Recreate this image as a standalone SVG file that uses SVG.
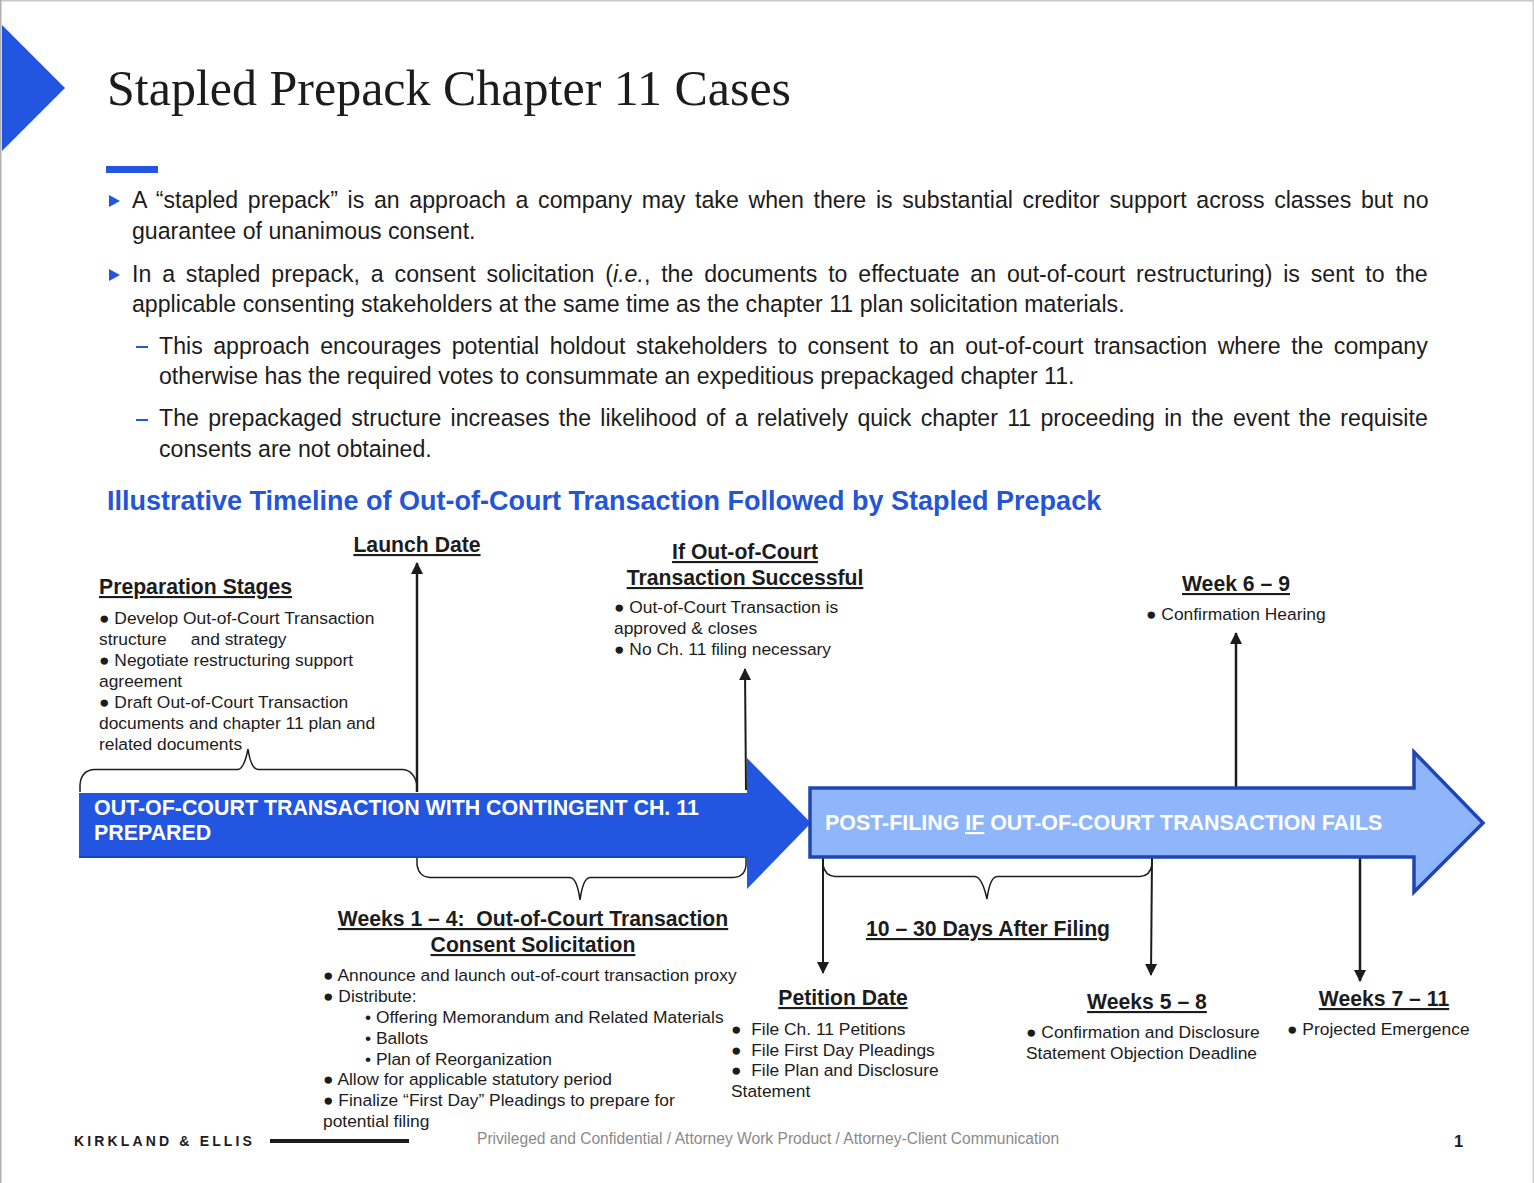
<svg xmlns="http://www.w3.org/2000/svg" width="1534" height="1183" viewBox="0 0 1534 1183">
<style>
text{font-family:"Liberation Sans",Arial,sans-serif;fill:#1c1c1c}
.b{font-size:23.15px}
.h{font-size:21.2px;font-weight:bold;text-decoration:underline}
.s{font-size:17.4px}
.c{text-anchor:middle}
.w{fill:#fff;font-weight:bold;font-size:21.4px}
.ln{fill:none;stroke:#1c1c1c;stroke-width:2}
.br{fill:none;stroke:#1c1c1c;stroke-width:1.5}
</style>
<defs><marker id="a" markerWidth="12" markerHeight="14" refX="11" refY="6" orient="auto" markerUnits="userSpaceOnUse" viewBox="0 0 12 12"><path d="M0 0L12 6L0 12z" fill="#1c1c1c"/></marker></defs>
<rect width="1534" height="1183" fill="#fff"/>
<rect x="0" y="0" width="1534" height="1.5" fill="#c8c8c8"/>
<rect x="0" y="0" width="1.5" height="1183" fill="#b0b0b0"/>
<rect x="1532.5" y="0" width="1.5" height="1183" fill="#d0d0d0"/>
<g id="header">
<path d="M2 25L65 88L2 151z" fill="#2255e0"/>
<text x="107" y="105" style="font-family:'Liberation Serif',serif;font-size:50px">Stapled Prepack Chapter 11 Cases</text>
<rect x="106" y="166" width="52" height="7" fill="#2255e0"/>
</g>
<g id="body">
<path d="M109 195L120 201L109 207z" fill="#2255e0"/>
<text class="b" x="132" y="208" word-spacing="3.25">A “stapled prepack” is an approach a company may take when there is substantial creditor support across classes but no</text>
<text class="b" x="132" y="239">guarantee of unanimous consent.</text>
<path d="M109 269L120 275L109 281z" fill="#2255e0"/>
<text class="b" x="132" y="282" word-spacing="4.4">In a stapled prepack, a consent solicitation (<tspan font-style="italic">i.e.</tspan>, the documents to effectuate an out-of-court restructuring) is sent to the</text>
<text class="b" x="132" y="312">applicable consenting stakeholders at the same time as the chapter 11 plan solicitation materials.</text>
<rect x="136" y="346" width="12" height="2" fill="#2255e0"/>
<text class="b" x="159" y="354" word-spacing="4.07">This approach encourages potential holdout stakeholders to consent to an out-of-court transaction where the company</text>
<text class="b" x="159" y="384">otherwise has the required votes to consummate an expeditious prepackaged chapter 11.</text>
<rect x="136" y="419" width="12" height="2" fill="#2255e0"/>
<text class="b" x="159" y="426" word-spacing="2.85">The prepackaged structure increases the likelihood of a relatively quick chapter 11 proceeding in the event the requisite</text>
<text class="b" x="159" y="457">consents are not obtained.</text>
<text x="107" y="510" style="font-size:27px;font-weight:bold;fill:#2255d8">Illustrative Timeline of Out-of-Court Transaction Followed by Stapled Prepack</text>
</g>
<g id="connectors">
<path class="ln" style="stroke-width:2.5" d="M417 792V563" marker-end="url(#a)"/>
<path class="ln" d="M746 790L745 669" marker-end="url(#a)"/>
<path class="ln" style="stroke-width:2.5" d="M1236 788V633" marker-end="url(#a)"/>
<path class="ln" d="M823 857V973" marker-end="url(#a)"/>
<path class="ln" d="M1152 857L1151 975" marker-end="url(#a)"/>
<path class="ln" style="stroke-width:2.5" d="M1360 857V981" marker-end="url(#a)"/>
<path class="br" d="M80 792V785Q81 770 95 769.5H238Q244 769 248 749Q251 769 258 769.5H402Q414 770 417 785V792"/>
<path class="br" d="M417 857V865Q419 877 430 877.5H570Q577 878 580 900Q583 878 590 877.5H733Q745 877 746 865V857"/>
<path class="br" d="M823 857V865Q825 876 835 876.5H975Q982 877 987 899Q990 877 997 876.5H1140Q1150 876 1152 865V857"/>
</g>
<g id="arrow-out-of-court">
<path d="M79 793H747V758L811 823L747 889V857H79z" fill="#2255e0"/>
<path d="M79 857H747" stroke="#1a45b8" stroke-width="2"/>
<text class="w" x="94" y="815">OUT-OF-COURT TRANSACTION WITH CONTINGENT CH. 11</text>
<text class="w" x="94" y="840">PREPARED</text>
</g>
<g id="arrow-post-filing">
<path d="M810 788H1414V752L1483 823L1414 892V857H810z" fill="#8fb6fb" stroke="#1f45b4" stroke-width="3.5"/>
<text class="w" x="825" y="830">POST-FILING <tspan text-decoration="underline">IF</tspan> OUT-OF-COURT TRANSACTION FAILS</text>
</g>
<g id="preparation">
<text class="h" x="99" y="594">Preparation Stages</text>
<text class="s" x="99" y="624">● Develop Out-of-Court Transaction</text>
<text class="s" x="99" y="645" xml:space="preserve">structure     and strategy</text>
<text class="s" x="99" y="666">● Negotiate restructuring support</text>
<text class="s" x="99" y="687">agreement</text>
<text class="s" x="99" y="708">● Draft Out-of-Court Transaction</text>
<text class="s" x="99" y="729">documents and chapter 11 plan and</text>
<text class="s" x="99" y="750">related documents</text>
</g>
<g id="launch"><text class="h c" x="417" y="552">Launch Date</text></g>
<g id="success">
<text class="h c" x="745" y="559">If Out-of-Court</text>
<text class="h c" x="745" y="585">Transaction Successful</text>
<text class="s" x="614" y="613">● Out-of-Court Transaction is</text>
<text class="s" x="614" y="634">approved &amp; closes</text>
<text class="s" x="614" y="655">● No Ch. 11 filing necessary</text>
</g>
<g id="week69">
<text class="h c" x="1236" y="591">Week 6 – 9</text>
<text class="s" x="1146" y="620">● Confirmation Hearing</text>
</g>
<g id="weeks14">
<text class="h c" x="533" y="926" xml:space="preserve">Weeks 1 – 4:  Out-of-Court Transaction</text>
<text class="h c" x="533" y="952">Consent Solicitation</text>
<text class="s" x="323" y="981">● Announce and launch out-of-court transaction proxy</text>
<text class="s" x="323" y="1002">● Distribute:</text>
<text class="s" x="365" y="1023">• Offering Memorandum and Related Materials</text>
<text class="s" x="365" y="1044">• Ballots</text>
<text class="s" x="365" y="1065">• Plan of Reorganization</text>
<text class="s" x="323" y="1085">● Allow for applicable statutory period</text>
<text class="s" x="323" y="1106">● Finalize “First Day” Pleadings to prepare for</text>
<text class="s" x="323" y="1127">potential filing</text>
</g>
<g id="days"><text class="h c" x="988" y="936">10 – 30 Days After Filing</text></g>
<g id="petition">
<text class="h c" x="843" y="1005">Petition Date</text>
<text class="s" x="731" y="1035" xml:space="preserve">●  File Ch. 11 Petitions</text>
<text class="s" x="731" y="1056" xml:space="preserve">●  File First Day Pleadings</text>
<text class="s" x="731" y="1076" xml:space="preserve">●  File Plan and Disclosure</text>
<text class="s" x="731" y="1097">Statement</text>
</g>
<g id="weeks58">
<text class="h c" x="1147" y="1009">Weeks 5 – 8</text>
<text class="s" x="1026" y="1038">● Confirmation and Disclosure</text>
<text class="s" x="1026" y="1059">Statement Objection Deadline</text>
</g>
<g id="weeks711">
<text class="h c" x="1384" y="1006">Weeks 7 – 11</text>
<text class="s" x="1287" y="1035">● Projected Emergence</text>
</g>
<g id="footer">
<text x="74" y="1146" style="font-size:14px;font-weight:bold;letter-spacing:3.15px">KIRKLAND &amp; ELLIS</text>
<rect x="270" y="1139" width="139" height="4" fill="#1c1c1c"/>
<text x="477" y="1144" style="font-size:15.6px;fill:#8a8a8a">Privileged and Confidential / Attorney Work Product / Attorney-Client Communication</text>
<text x="1454" y="1147" style="font-size:16.5px;font-weight:bold">1</text>
</g>
</svg>
